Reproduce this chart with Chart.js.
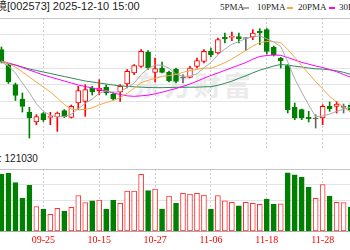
<!DOCTYPE html>
<html>
<head>
<meta charset="utf-8">
<script src="https://cdn.jsdelivr.net/npm/chart.js@4"></script>
<style>
    html, body { margin: 0; padding: 0; background: #fff; }
    #wrap { position: relative; width: 350px; height: 250px; overflow: hidden; background: #fff; }
    .txt { position: absolute; white-space: nowrap; color: #222; }
    #title { left: -37px; top: 0; font: 11px/13px "Liberation Sans", "Noto Sans CJK SC", sans-serif; }
    .leg { top: 1px; font: 9px/12px "Liberation Serif", serif; }
    .dash { position: absolute; top: 7px; height: 2px; width: 6px; }
    #vol-label { left: -31px; top: 153px; font: 10px/12px "Liberation Sans", "Noto Sans CJK SC", sans-serif; }
    #watermark { position: absolute; left: 134px; top: 71px; font: bold 27px/28px "Noto Sans CJK SC", sans-serif; color: #ebebeb; letter-spacing: 3px; }
    canvas { position: absolute; left: -16px; }
    #price-chart { top: 18px; }
    #volume-chart { top: 169px; }
</style>
</head>
<body>
<div id="wrap">
    <div id="watermark">东方财富</div>
    <div class="txt" id="title">清新环境[002573] 2025-12-10 15:00</div>
    <div class="txt leg" style="left:220px">5PMA</div>
    <div class="dash" style="left:243px;background:#aaaaaa"></div>
    <div class="txt leg" style="left:257px">10PMA</div>
    <div class="dash" style="left:287px;background:#f5a742"></div>
    <div class="txt leg" style="left:298px">20PMA</div>
    <div class="dash" style="left:329px;background:#ff00ff"></div>
    <div class="txt leg" style="left:339px">30PMA</div>
    <div class="dash" style="left:369px;background:#2e8b57"></div>
    <div class="txt" id="vol-label">成交量: 121030</div>
    <canvas id="price-chart" width="398" height="132"></canvas>
    <canvas id="volume-chart" width="398" height="81"></canvas>
</div>
<script>
// trading days, 09-15 .. 12-10
const DATES = [
    '09-15','09-16','09-17','09-18','09-19','09-22','09-23','09-24','09-25','09-26','09-29','09-30',
    '10-09','10-10','10-13','10-14','10-15','10-16','10-17','10-20','10-21','10-22','10-23','10-24',
    '10-27','10-28','10-29','10-30','10-31',
    '11-03','11-04','11-05','11-06','11-07','11-10','11-11','11-12','11-13','11-14','11-17','11-18',
    '11-19','11-20','11-21','11-24','11-25','11-26','11-27','11-28',
    '12-01','12-02','12-03','12-04','12-05','12-08','12-09','12-10'
];
const TICK_DATES = ['09-15','09-25','10-15','10-27','11-06','11-18','11-28','12-10'];

const OPEN = [null, null,
    6.210, 6.118, 6.001, 5.914, 5.834, 5.776, 5.826, 5.804, 5.806, 5.844,
    5.804, 5.890, 5.900, 5.980, 5.964, 5.986, 5.944, 5.956, 6.004, 6.070,
    6.110, 6.196, 6.074, 6.100, 6.076, 6.094, 6.040, 6.044, 6.110, 6.140,
    6.200, 6.190, 6.286, 6.284, 6.288, 6.277, 6.286, 6.320, 6.330, 6.224,
    6.160, 6.114, 5.864, 5.850, 5.804, 5.794, 5.800, 5.870, 5.870, 5.864,
    5.878, null, null, null, null];
const HIGH = [null, null,
    6.226, 6.128, 6.010, 5.950, 5.864, 5.820, 5.833, 5.834, 5.836, 5.851,
    5.878, 5.990, 6.000, 5.990, 6.030, 5.998, 5.956, 6.000, 6.090, 6.120,
    6.210, 6.205, 6.160, 6.136, 6.082, 6.100, 6.060, 6.110, 6.160, 6.210,
    6.220, 6.280, 6.310, 6.316, 6.310, 6.283, 6.330, 6.336, 6.337, 6.232,
    6.164, 6.120, 5.890, 5.854, 5.840, 5.820, 5.880, 5.896, 5.900, 5.884,
    5.890, null, null, null, null];
const LOW = [null, null,
    6.130, 6.007, 5.905, 5.836, 5.680, 5.760, 5.779, 5.760, 5.720, 5.803,
    5.800, 5.850, 5.810, 5.938, 5.940, 5.938, 5.908, 5.900, 5.980, 6.060,
    6.103, 6.091, 6.016, 6.070, 6.016, 6.010, 6.010, 6.040, 6.100, 6.130,
    6.166, 6.184, 6.250, 6.264, 6.250, 6.204, 6.270, 6.240, 6.184, 6.172,
    6.100, 5.830, 5.790, 5.790, 5.776, 5.740, 5.760, 5.840, 5.830, 5.830,
    5.836, null, null, null, null];
const CLOSE = [null, null,
    6.140, 6.016, 5.935, 5.870, 5.800, 5.808, 5.790, 5.810, 5.830, 5.808,
    5.870, 5.964, 5.970, 5.956, 5.980, 5.950, 5.914, 5.990, 6.080, 6.114,
    6.200, 6.100, 6.097, 6.074, 6.022, 6.020, 6.040, 6.100, 6.144, 6.200,
    6.180, 6.270, 6.276, 6.290, 6.276, 6.277, 6.310, 6.310, 6.200, 6.180,
    6.144, 5.850, 5.800, 5.800, 5.796, 5.794, 5.870, 5.856, 5.884, 5.864,
    5.848, null, null, null, null];

const MA5 = [null, null,
    6.136, 6.112, 6.070, 6.010, 5.952, 5.886, 5.841, 5.816, 5.808, 5.809,
    5.822, 5.856, 5.888, 5.913, 5.948, 5.964, 5.954, 5.958, 5.983, 6.009,
    6.060, 6.097, 6.118, 6.117, 6.099, 6.063, 6.051, 6.051, 6.065, 6.101,
    6.133, 6.179, 6.214, 6.243, 6.258, 6.278, 6.286, 6.293, 6.275, 6.255,
    6.229, 6.137, 6.035, 5.955, 5.878, 5.808, 5.812, 5.823, 5.840, 5.853,
    5.864, null, null, null, null];
const MA10 = [null, null,
    6.142, 6.127, 6.106, 6.076, 6.046, 6.016, 5.986, 5.956, 5.920, 5.881,
    5.854, 5.849, 5.852, 5.861, 5.879, 5.893, 5.905, 5.923, 5.948, 5.979,
    6.012, 6.026, 6.038, 6.050, 6.054, 6.061, 6.074, 6.085, 6.091, 6.100,
    6.098, 6.114, 6.132, 6.154, 6.180, 6.205, 6.232, 6.253, 6.259, 6.257,
    6.253, 6.211, 6.164, 6.114, 6.066, 6.018, 5.975, 5.929, 5.897, 5.866,
    5.836, null, null, null, null];
const MA20 = [null, null,
    6.142, 6.130, 6.118, 6.103, 6.088, 6.073, 6.058, 6.046, 6.034, 6.022,
    6.010, 5.998, 5.989, 5.980, 5.971, 5.962, 5.950, 5.941, 5.933, 5.930,
    5.933, 5.937, 5.945, 5.955, 5.966, 5.977, 5.990, 6.004, 6.020, 6.039,
    6.055, 6.070, 6.086, 6.102, 6.117, 6.133, 6.153, 6.169, 6.175, 6.178,
    6.176, 6.163, 6.148, 6.134, 6.123, 6.112, 6.103, 6.091, 6.078, 6.061,
    6.045, null, null, null, null];
const MA30 = [null, null,
    6.136, 6.127, 6.118, 6.106, 6.094, 6.085, 6.076, 6.067, 6.058, 6.049,
    6.040, 6.031, 6.022, 6.016, 6.010, 6.004, 5.998, 5.993, 5.990, 5.987,
    5.985, 5.983, 5.982, 5.982, 5.983, 5.984, 5.984, 5.985, 5.985, 5.987,
    5.988, 5.996, 6.008, 6.021, 6.038, 6.053, 6.071, 6.087, 6.099, 6.112,
    6.121, 6.117, 6.111, 6.106, 6.100, 6.095, 6.093, 6.089, 6.083, 6.074,
    6.062, null, null, null, null];

const VOLUME = [null, null,
    366000, 372000, 312000, 211000, 295000, 157000, 140000, 108000, 146000, 129000,
    153000, 228000, 183000, 194000, 200000, 140000, 200000, 179000, 258000, 258000,
    366000, 260000, 271000, 142000, 226000, 179000, 243000, 239000, 243000, 232000,
    140000, 228000, 194000, 185000, 163000, 185000, 179000, 172000, 206000, 172000,
    176000, 376000, 363000, 346000, 282000, 211000, 299000, 226000, 185000, 183000,
    153000, null, null, null, null];
// 1 = red (up) bar, -1 = green (down) bar
const VOLUME_DIR = [0, 0,
    -1, -1, -1, -1, -1, 1, -1, 1, 1, -1,
    1, 1, 1, -1, 1, -1, -1, 1, 1, 1,
    1, -1, 1, -1, 1, -1, 1, 1, 1, 1,
    -1, 1, 1, 1, -1, 1, 1, 1, -1, -1,
    1, -1, -1, -1, -1, 1, 1, -1, 1, 1,
    -1, 0, 0, 0, 0];

const PRICE_GRID = [5.7, 5.8, 5.9, 6.0, 6.1, 6.2, 6.3, 6.4];
const VOLUME_GRID = [100000, 200000, 300000, 400000];

const UP = '#ff0000';
const DOWN = '#008000';
const FLAT = '#666666';
const MA_COLORS = ['#aaaaaa', '#f5a742', '#ff00ff', '#2e8b57'];

function candleColor(i) {
    if (OPEN[i] == null) return 'transparent';
    if (CLOSE[i] > OPEN[i]) return UP;
    if (CLOSE[i] < OPEN[i]) return DOWN;
    return FLAT;
}

const idx = DATES.map((d, i) => i);
const colors = idx.map(candleColor);

function xAxis(showLabels) {
    return {
        type: 'category',
        offset: true,
        grid: {
            offset: false,
            drawTicks: false,
            color: ctx => TICK_DATES.includes(DATES[ctx.index]) ? '#cccccc' : 'transparent'
        },
        border: { display: true, color: '#aaaaaa', dash: [2, 2] },
        ticks: {
            display: showLabels,
            autoSkip: false,
            maxRotation: 0,
            padding: 3,
            color: '#ff0000',
            font: { family: 'Liberation Serif', size: 10 },
            callback: (v, i) => TICK_DATES.includes(DATES[i]) ? DATES[i] : ''
        },
        // keep both panels on the same x layout: no room reserved for edge labels
        afterFit: s => {
            s.height = showLabels ? 19 : 0;
            s.paddingLeft = 0;
            s.paddingRight = 0;
        }
    };
}

function yAxis(min, max, gridValues) {
    return {
        min: min,
        max: max,
        afterBuildTicks: s => { s.ticks = gridValues.map(v => ({ value: v })); },
        ticks: { display: false },
        grid: {
            drawTicks: false,
            color: ctx => (ctx.tick && ctx.tick.value === max) ? '#c4c4c4' : '#e4e4e4'
        },
        border: { display: false },
        afterFit: s => {
            s.width = 0;
            s.paddingTop = 0;
            s.paddingBottom = 0;
        }
    };
}

const baseOptions = {
    responsive: false,
    animation: false,
    layout: { padding: 0, autoPadding: false },
    plugins: { legend: { display: false }, tooltip: { enabled: false } },
    events: []
};

function maLine(data, color) {
    return {
        type: 'line',
        data: data,
        borderColor: color,
        borderWidth: 1,
        pointRadius: 0,
        fill: false,
        tension: 0,
        order: 0
    };
}

// price panel: candles + moving averages
new Chart(document.getElementById('price-chart'), {
    type: 'bar',
    data: {
        labels: DATES,
        datasets: [
            {
                // wick
                data: idx.map(i => HIGH[i] == null ? null : [LOW[i], HIGH[i]]),
                backgroundColor: colors,
                borderWidth: 0,
                barThickness: 1,
                grouped: false,
                order: 3
            },
            {
                // body
                data: idx.map(i => OPEN[i] == null ? null : [OPEN[i], CLOSE[i]]),
                backgroundColor: idx.map(i => colors[i] === UP ? '#ffffff' : colors[i]),
                borderColor: colors,
                borderWidth: 1,
                borderSkipped: false,
                barThickness: 5,
                minBarLength: 1,
                grouped: false,
                order: 2
            },
            maLine(MA5, MA_COLORS[0]),
            maLine(MA10, MA_COLORS[1]),
            maLine(MA20, MA_COLORS[2]),
            maLine(MA30, MA_COLORS[3])
        ]
    },
    options: Object.assign({}, baseOptions, {
        scales: {
            x: xAxis(false),
            y: yAxis(5.608, 6.4, PRICE_GRID)
        }
    })
});

// volume panel
new Chart(document.getElementById('volume-chart'), {
    type: 'bar',
    data: {
        labels: DATES,
        datasets: [{
            data: VOLUME,
            backgroundColor: VOLUME_DIR.map(d => d > 0 ? '#ffffff' : DOWN),
            borderColor: VOLUME_DIR.map(d => d > 0 ? '#ff3333' : DOWN),
            borderWidth: 1,
            borderSkipped: false,
            barThickness: 5
        }]
    },
    options: Object.assign({}, baseOptions, {
        scales: {
            x: xAxis(true),
            y: yAxis(0, 400000, VOLUME_GRID)
        }
    })
});
</script>
</body>
</html>
